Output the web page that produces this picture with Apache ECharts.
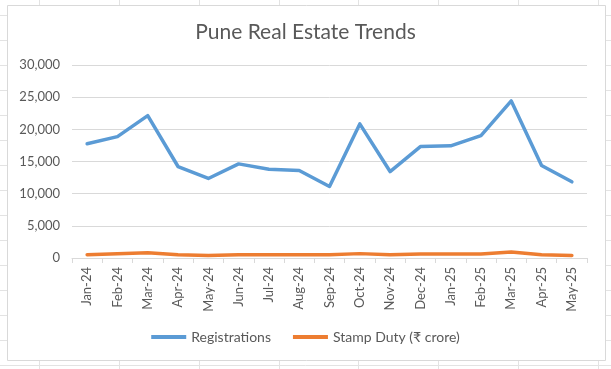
<!DOCTYPE html>
<html>
<head>
<meta charset="utf-8">
<script src="https://cdn.jsdelivr.net/npm/echarts@6/dist/echarts.min.js"></script>
<style>
html,body{margin:0;padding:0;background:#fff;}
#c{width:611px;height:369px;}
</style>
</head>
<body>
<div id="c"></div>
<script>
const categories = ['Jan-24','Feb-24','Mar-24','Apr-24','May-24','Jun-24','Jul-24','Aug-24','Sep-24','Oct-24','Nov-24','Dec-24','Jan-25','Feb-25','Mar-25','Apr-25','May-25'];
const registrations = [17750, 18870, 22130, 14220, 12360, 14630, 13810, 13600, 11110, 20840, 13440, 17320, 17430, 19030, 24410, 14380, 11840];
const stampDuty = [520, 650, 820, 520, 380, 520, 520, 520, 500, 680, 500, 620, 620, 620, 950, 520, 380];
const seriesNames = ['Registrations', 'Stamp Duty (₹ crore)'];
const titleText = 'Pune Real Estate Trends';

const chart = echarts.init(document.getElementById('c'));
const font = 'Lato, Carlito, "Liberation Sans", sans-serif';
const txt = '#595959';
const gridCol = '#d9d9d9';

// background sheet cell lines (decorative)
const bg = [];
[39,119,199,279,358,438,518,598].forEach(x => {
  bg.push({type:'line', shape:{x1:x+0.5,y1:0,x2:x+0.5,y2:369}, style:{stroke:'#e3e3e3',lineWidth:1}, z:-10});
});
for (let y = 15; y < 369; y += 25) {
  bg.push({type:'line', shape:{x1:0,y1:y+0.5,x2:611,y2:y+0.5}, style:{stroke:'#e3e3e3',lineWidth:1}, z:-10});
}
bg.push({type:'rect', shape:{x:7.5,y:5.5,width:598,height:355}, style:{fill:'#fff',stroke:'#d9d9d9',lineWidth:1}, z:-9});

chart.setOption({
  animation:false,
  graphic: bg,
  title:{
    text:titleText, left:'center', top:17,
    textStyle:{fontFamily:font, fontSize:21, fontWeight:'normal', color:txt}
  },
  grid:{left:72, right:24, top:65, bottom:111, containLabel:false},
  legend:{
    bottom:20, left:'center',
    itemWidth:35, itemHeight:4, itemGap:22,
    icon:'rect',
    textStyle:{fontFamily:font, fontSize:14, color:txt},
    data: seriesNames
  },
  xAxis:{
    type:'category', data:categories, boundaryGap:true,
    axisLine:{lineStyle:{color:gridCol}},
    axisTick:{show:true, length:5, lineStyle:{color:gridCol}},
    axisLabel:{rotate:90, margin:9, fontFamily:font, fontSize:13, color:txt, interval:0}
  },
  yAxis:{
    type:'value', min:0, max:30000, interval:5000,
    axisLine:{show:false}, axisTick:{show:false},
    splitLine:{lineStyle:{color:gridCol}},
    axisLabel:{fontFamily:font, fontSize:13, color:txt, margin:12,
      formatter:v => v.toLocaleString('en-US')}
  },
  series:[
    {name:seriesNames[0], type:'line', data:registrations, showSymbol:false, symbol:'none',
     lineStyle:{width:3.5, color:'#5B9BD5', cap:'round', join:'round'}, itemStyle:{color:'#5B9BD5'}},
    {name:seriesNames[1], type:'line', data:stampDuty, showSymbol:false, symbol:'none',
     lineStyle:{width:3.5, color:'#ED7D31', cap:'round', join:'round'}, itemStyle:{color:'#ED7D31'}}
  ]
});
</script>
</body>
</html>
